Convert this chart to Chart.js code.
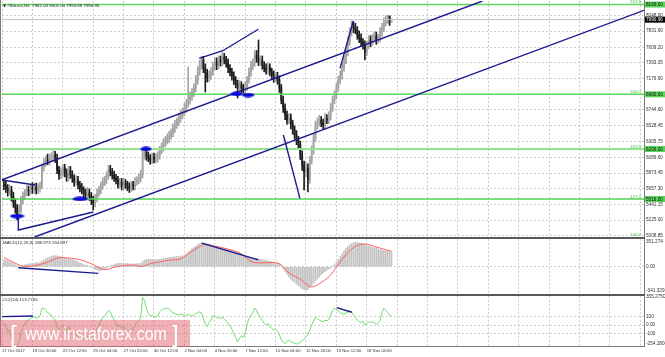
<!DOCTYPE html>
<html>
<head>
<meta charset="utf-8">
<script src="https://cdn.jsdelivr.net/npm/chart.js@4.4.1/dist/chart.umd.min.js"></script>
<style>
  html,body{margin:0;padding:0;background:#fff;}
  body{width:665px;height:357px;position:relative;overflow:hidden;font-family:"Liberation Sans",Arial,sans-serif;}
  canvas{position:absolute;left:0;}
  .ln{position:absolute;background:#7a7a7a;z-index:2;}
  .txt{position:absolute;white-space:nowrap;color:#2a2a2a;font-size:4.4px;line-height:5px;z-index:3;}
  #wm{position:absolute;left:0;top:320px;width:190px;height:27px;background:rgba(226,98,108,0.5);z-index:4;}
  #wm span{position:absolute;color:#fff;white-space:nowrap;line-height:1;}
</style>
</head>
<body>
<canvas id="cMain" width="665" height="237" style="top:0"></canvas>
<canvas id="cMacd" width="665" height="55" style="top:239px"></canvas>
<canvas id="cCci" width="665" height="61" style="top:296px"></canvas>

<div class="ln" style="left:0;top:0;width:1px;height:347px"></div>
<div class="ln" style="left:644px;top:0;width:1px;height:347px"></div>
<div class="ln" style="left:0;top:237px;width:645px;height:2px;background:#5a5a5a"></div>
<div class="ln" style="left:0;top:294px;width:645px;height:2px;background:#5a5a5a"></div>
<div class="ln" style="left:0;top:346px;width:645px;height:1px"></div>

<div class="txt" style="left:3px;top:2.5px;"><span style="font-family:'DejaVu Sans';font-size:4px">▼</span> #Bitcoin,H4&nbsp; 7962.03 8002.05 7950.88 7990.96</div>
<div class="txt" style="left:3px;top:240px;">MACD(12,26,9) 188.973 194.897</div>
<div class="txt" style="left:3px;top:297px;">CCI(14) 113.7765</div>

<div id="wm">
  <span style="left:10px;top:2px;font-size:24px;">[</span>
  <span style="left:25px;top:4px;font-size:19px;transform:scaleX(0.84);transform-origin:left top;">www.instaforex.com</span>
  <span style="left:172px;top:2px;font-size:24px;">]</span>
</div>

<script>
// ---------------- DATA ----------------
const dateLabels = ['17 Oct 2017','19 Oct 20:00','22 Oct 12:00','25 Oct 04:00','27 Oct 20:00','30 Oct 12:00','2 Nov 04:00','4 Nov 20:00','7 Nov 12:00','10 Nov 04:00','12 Nov 20:00','15 Nov 12:00','18 Nov 04:00'];

const openP = [5720,5695,5668,5612,5640,5543,5461,5392,5309,5364,
5502,5557,5599,5640,5626,5668,5654,5681,5640,5668,
5695,5957,6013,6054,6040,6082,6095,6123,6082,5916,
5847,5888,5944,5875,5819,5916,5847,5806,5750,5778,
5709,5668,5640,5599,5571,5612,5557,5502,5461,5530,
5599,5640,5695,5750,5778,5833,5916,5888,5847,5806,
5778,5723,5750,5695,5737,5709,5681,5668,5709,5695,
5750,5778,5806,5847,6123,6164,6109,6082,6054,6095,
6068,6082,6109,6192,6233,6289,6330,6358,6385,6427,
6496,6537,6578,6634,6675,6716,6772,6827,6882,6937,
6979,7048,7158,7268,7365,7434,7324,7255,7186,7227,
7268,7351,7406,7365,7434,7406,7475,7434,7393,7324,
7268,7213,7158,7103,7048,7089,7048,7006,7075,7158,
7268,7351,7393,7503,7462,7406,7434,7365,7324,7296,
7337,7268,7227,7186,7213,7158,7048,6882,6772,6675,
6606,6634,6551,6468,6399,6330,6261,6123,5985,5888,
5944,5778,6054,6192,6358,6537,6578,6606,6565,6537,
6634,6606,6661,6772,6882,6951,7048,7158,7227,7324,
7434,7544,7682,7820,7903,7876,7848,7779,7738,7682,
7641,7544,7641,7710,7682,7738,7765,7710,7738,7820,
7876,7958,7986,8041,7962.03];

const highP = [5790,5760,5715,5710,5690,5610,5515,5440,5435,5550,
5615,5650,5705,5695,5720,5740,5735,5735,5730,5750,
6005,6075,6110,6135,6135,6155,6185,6175,6135,5965,
5950,5995,5995,5930,5965,5965,5905,5850,5835,5830,
5760,5730,5685,5655,5675,5655,5605,5555,5580,5655,
5690,5750,5810,5830,5890,5980,5980,5940,5900,5855,
5830,5800,5800,5800,5785,5760,5740,5760,5760,5810,
5825,5860,5910,6205,6225,6215,6165,6130,6150,6150,
6140,6170,6240,6290,6350,6380,6415,6450,6480,6555,
6600,6630,6695,6740,6770,6835,6890,7337,6995,7045,
7105,7220,7340,7430,7482,7485,7380,7305,7285,7330,
7405,7465,7465,7490,7490,7544,7525,7485,7450,7370,
7320,7270,7205,7155,7150,7135,7100,7135,7210,7325,
7415,7450,7565,7565,7710,7490,7490,7410,7380,7400,
7380,7320,7285,7265,7265,7215,7095,6935,6830,6730,
6695,6690,6600,6525,6460,6380,6315,6180,6040,6025,
6000,6105,6250,6420,6590,6635,6670,6655,6620,6695,
6680,6720,6835,6935,7010,7110,7210,7285,7390,7490,
7605,7750,7880,7972,7965,7940,7895,7835,7795,7730,
7700,7695,7770,7770,7790,7825,7820,7790,7880,7940,
8015,8045,8055,8040,8002.05];

const lowP = [5645,5605,5555,5570,5485,5400,5320,5226,5255,5320,
5450,5505,5560,5560,5580,5595,5595,5585,5590,5610,
5660,5900,5965,5990,5985,6030,6045,6020,5865,5785,
5795,5830,5820,5760,5765,5800,5745,5690,5705,5655,
5615,5585,5535,5520,5520,5495,5440,5364,5405,5475,
5550,5585,5650,5700,5725,5790,5835,5790,5760,5725,
5665,5675,5640,5640,5660,5630,5605,5620,5640,5640,
5705,5725,5750,5805,6065,6050,6030,5995,6000,6015,
6015,6025,6065,6140,6175,6240,6275,6295,6340,6375,
6435,6490,6525,6575,6625,6665,6710,6780,6825,6880,
6930,6995,7100,7220,7305,7260,6992,7130,7130,7165,
7220,7295,7300,7315,7350,7350,7380,7335,7260,7215,
7155,7095,7050,6910,6990,6985,6955,6955,7015,7110,
7210,7300,7345,7400,7355,7355,7305,7270,7240,7240,
7215,7170,7125,7140,7100,6985,6830,6710,6610,6550,
6555,6485,6410,6340,6265,6205,6060,5910,5640,5825,
5612,5730,6000,6135,6310,6480,6520,6515,6480,6480,
6555,6555,6605,6725,6830,6895,7000,7105,7170,7280,
7385,7490,7635,7765,7810,7795,7720,7675,7630,7585,
7434,7495,7590,7620,7635,7685,7650,7665,7685,7760,
7830,7905,7935,7910,7950.88];

const closeP = [5695,5668,5612,5640,5543,5461,5392,5309,5364,5502,
5557,5599,5640,5626,5668,5654,5681,5640,5668,5695,
5957,6013,6054,6040,6082,6095,6123,6082,5916,5847,
5888,5944,5875,5819,5916,5847,5806,5750,5778,5709,
5668,5640,5599,5571,5612,5557,5502,5461,5530,5599,
5640,5695,5750,5778,5833,5916,5888,5847,5806,5778,
5723,5750,5695,5737,5709,5681,5668,5709,5695,5750,
5778,5806,5847,6123,6164,6109,6082,6054,6095,6068,
6082,6109,6192,6233,6289,6330,6358,6385,6427,6496,
6537,6578,6634,6675,6716,6772,6827,6882,6937,6979,
7048,7158,7268,7365,7434,7324,7255,7186,7227,7268,
7351,7406,7365,7434,7406,7475,7434,7393,7324,7268,
7213,7158,7103,7048,7089,7048,7006,7075,7158,7268,
7351,7393,7503,7462,7406,7434,7365,7324,7296,7337,
7268,7227,7186,7213,7158,7048,6882,6772,6675,6606,
6634,6551,6468,6399,6330,6261,6123,5985,5888,5944,
5778,6054,6192,6358,6537,6578,6606,6565,6537,6634,
6606,6661,6772,6882,6951,7048,7158,7227,7324,7434,
7544,7682,7820,7903,7876,7848,7779,7738,7682,7641,
7544,7641,7710,7682,7738,7765,7710,7738,7820,7876,
7958,7986,8041,7958,7990.96];

const macdMain = [85,80,75,68,55,40,25,12,5,8,
15,25,32,38,42,45,48,50,52,55,
70,85,100,112,122,130,138,142,140,132,
125,118,112,108,102,98,92,85,75,62,
50,40,30,22,15,8,0,-15,-30,-42,
-48,-45,-35,-25,-12,0,10,20,30,38,
42,45,45,43,42,40,38,36,35,38,
40,42,45,70,85,92,95,95,94,92,
90,90,95,100,105,110,115,118,120,122,
125,128,132,136,140,150,165,185,205,225,
245,262,280,292,300,302,298,290,282,275,
268,262,256,250,245,240,235,230,224,218,
212,205,195,185,175,165,155,145,135,125,
118,112,110,108,100,95,90,85,80,75,
70,65,60,55,48,35,10,-25,-60,-95,
-130,-155,-175,-195,-215,-235,-255,-272,-285,-290,
-282,-260,-235,-205,-175,-150,-125,-100,-80,-60,
-42,-28,-12,5,30,60,95,130,165,200,
232,258,280,295,305,310,308,302,295,288,
278,268,260,252,245,240,235,225,218,210,
205,200,196,192,188.973];

const signalBar = [0,3,8,11,16,22,30,35,40,45,50,53,58,64,69,72,77,82,87,93,98,103,106,111,119,124,131,135,140,145,150,156,162,166,172,175,180,185,190,195,201,204];
const signalVal = [117,80,25,5,15,50,117,110,90,50,-10,-35,-5,20,22,5,40,63,85,100,180,255,280,260,215,176,60,50,55,40,-73,-155,-250,-210,-100,0,151,256,286,256,215,194.897];

const cci = [20,-20,-80,-60,-150,-220,-250,-254,-200,-90,
-30,10,50,60,80,90,100,85,95,110,
200,207,180,150,140,110,90,60,-20,-60,
-30,0,-40,-80,-20,-50,-70,-120,-100,-150,
-170,-180,-160,-170,-130,-150,-160,-180,-120,-50,
0,50,90,110,140,178,160,110,60,30,
-20,0,-40,-10,-40,-70,-90,-50,-60,0,
30,60,90,334,300,200,140,110,120,100,
95,110,160,185,195,200,207,190,170,150,
140,130,125,135,125,120,118,130,115,110,
120,140,150,160,150,80,10,-20,30,60,
115,110,90,95,75,100,70,50,20,-10,
-50,-100,-150,-200,-160,-130,-150,-100,13,80,
120,150,207,180,120,100,60,20,0,20,
-20,-40,-60,-50,-70,-120,-180,-210,-220,-200,
-180,-200,-210,-220,-230,-225,-210,-190,-170,-140,
-120,-60,0,50,92,80,60,50,40,60,
50,70,120,180,207,190,170,150,140,130,
145,150,170,160,120,100,60,40,30,50,
0,20,40,30,40,30,10,20,60,150,
203,180,150,120,113.7765];

const priceTicks = [8048.90,7831.90,7609.20,7393.05,7176.90,6960.75,6744.60,6528.45,6305.75,6089.60,5873.45,5657.30,5441.15,5225.00,5008.85];
const fibNames  = ['261.8','200.0','161.8','127.2','100.0'];
const fibLevels = [8199,6960,6206,5516,4976];
const fibBoxText = ['8199.00','6960.00','6206.00','5516.00',''];
const lastPrice = 7990.96;

const macdTickLabels = ['351.274','0.00','-341.329'];
const macdTickVals   = [313, 0, -300];
const cciTickLabels  = ['355.2750','100','0.00','-100','-254.2804'];
const cciTickVals    = [339, 100, 0, -100, -221];

// hand-drawn analysis objects: [barIndex, value] pairs
const upperChannel = [[-1,5781],[251.9,8248]];
const lowerChannel = [[16.2,4991],[336.9,8120]];
const wedgeTopLeft = [[-1,5778],[16.4,5709]];
const wedgeLowLeft = [[7.6,5254],[7.6,5088],[47.1,5336]];
const wedgeTopMid  = [[102.8,7457],[115.2,7562],[133.9,7858]];
const waveDown     = [[147.1,6399],[155.8,5525]];
const waveUp       = [[176.9,7319],[183.9,7972]];
const macdLine1    = [[7.6,-10],[49.7,-81]];
const macdLine2    = [[104.1,297],[133.9,87]];
const cciLine1     = [[-1,102],[15.3,111]];
const cciLine2     = [[175.2,212],[183.1,156]];
const markerBar    = [6.9,40.1,74.8,122.4,128.5];
const markerPrice  = [5281,5516,6206,6965,6951];

// ---------------- STYLE / LAYOUT ----------------
const FONT = '"Liberation Sans", Arial, sans-serif';
const X_MIN = -1, X_MAX = 336.9;
const gridIdx = []; for (let k = 0; k < 22; k++) gridIdx.push(-1 + 16 * k);
const GRID = '#cdcdcd';
const BLUE = '#1b1b8f';
const markerDims = [[15,5],[16,5],[12,5],[13,5],[13,5]];
const fibColors = ['#5fd65f','#5fd65f','#8fe68f','#52d052','#52d052'];
const fibWidths = [1.5,1.5,2,1.5,1.5];
const AREA_LEFT = 2, AREA_RIGHT = 644;   // page x of plot area

function pts(arr){ return arr.map(p => ({x:p[0], y:p[1]})); }
function seg(arr, color, w, order){ return {type:'line', data:pts(arr), borderColor:color||BLUE, borderWidth:w||1.4, pointRadius:0, fill:false, tension:0, order:order==null?3:order}; }

function xAxis(withLabels){
  return {
    type:'linear', min:X_MIN, max:X_MAX, offset:false,
    afterBuildTicks: s => { s.ticks = gridIdx.map(v => ({value:v})); },
    afterFit: s => { s.height = withLabels ? 11 : 0; },
    grid:{ color:GRID, lineWidth:1, drawTicks:false, offset:false },
    border:{ display:false, dash:[2,2] },
    ticks:{ display:withLabels, autoSkip:false, maxRotation:0, minRotation:0, align:'start', padding:2,
            color:'#333', font:{size:4.2, family:FONT}, callback:(v,k) => dateLabels[k] || '' }
  };
}
function yAxis(min, max, vals, labelFn, gridFn){
  return {
    type:'linear', position:'right', min, max, beginAtZero:false,
    afterBuildTicks: s => { s.ticks = vals.map(v => ({value:v})); },
    afterFit: s => { s.width = 21; },
    grid:{ color: c => gridFn(c.index), lineWidth:1, drawTicks:false },
    border:{ display:false, dash:[2,2] },
    ticks:{ autoSkip:false, padding:2, color:'#333', font:{size:4.7, family:FONT}, callback:(v,k) => labelFn(v,k) }
  };
}
const common = {
  responsive:false, animation:false, events:[],
  plugins:{ legend:{display:false}, tooltip:{enabled:false} },
  layout:{ padding:0 }
};

// create chart so that its plot area lands exactly on the wanted page rectangle
function placeChart(id, top, bottom, makeCfg){
  const cv = document.getElementById(id);
  cv.width = 665; cv.height = Math.round(bottom - top) + 20;
  cv.style.left = '0px'; cv.style.top = top + 'px';
  let chart = new Chart(cv, makeCfg());
  const a = chart.chartArea;
  const padT = a.top, padB = cv.height - a.bottom, padL = a.left, padR = cv.width - a.right;
  chart.destroy();
  const newW = Math.round(padL + (AREA_RIGHT - AREA_LEFT) + padR);
  const newH = Math.round(padT + (bottom - top) + padB);
  cv.width = newW; cv.height = newH;
  cv.style.left = Math.round(AREA_LEFT - padL) + 'px';
  cv.style.top = Math.round(top - padT) + 'px';
  cv.style.width = newW + 'px'; cv.style.height = newH + 'px';
  chart = new Chart(cv, makeCfg());
  return chart;
}

// ---------------- MAIN CHART ----------------
const bars = closeP.map((_, i) => i);
const up = i => closeP[i] >= openP[i];
const BULL = '#a4a4a4', BEAR = '#1c1c1c';

function ellipseImg(w, h){
  const c = document.createElement('canvas'); c.width = w; c.height = h;
  const g = c.getContext('2d');
  g.fillStyle = '#0b0bd8';
  g.beginPath(); g.ellipse(w/2, h/2, w/2 - 0.3, h/2 - 0.3, 0, 0, Math.PI*2); g.fill();
  return c;
}
const markerImgs = markerDims.map(d => ellipseImg(d[0], d[1]));

const mainOverlay = {
  id:'mainOverlay',
  afterDraw(chart){
    const {ctx, chartArea} = chart; const y = chart.scales.y;
    ctx.save();
    ctx.font = '4.4px ' + FONT;
    ctx.textBaseline = 'middle';
    fibLevels.forEach((lv, k) => {
      const py = Math.min(y.getPixelForValue(lv), chartArea.bottom + 0.5);
      ctx.fillStyle = '#3fbf3f'; ctx.textAlign = 'right';
      ctx.fillText(fibNames[k], chartArea.right - 3, py - 2.6);
      if (fibBoxText[k]) {
        ctx.fillStyle = '#5ad65a';
        ctx.fillRect(chartArea.right + 1, py - 3, 21, 6);
        ctx.fillStyle = '#111'; ctx.textAlign = 'left';
        ctx.font = '4.7px ' + FONT;
        ctx.fillText(fibBoxText[k], chartArea.right + 2, py + 0.3);
        ctx.font = '4.4px ' + FONT;
      }
    });
    const pp = y.getPixelForValue(lastPrice);
    ctx.fillStyle = '#000';
    ctx.fillRect(chartArea.right + 1, pp - 3, 21, 6);
    ctx.fillStyle = '#fff'; ctx.textAlign = 'left'; ctx.font = '4.7px ' + FONT;
    ctx.fillText(lastPrice.toFixed(2), chartArea.right + 2, pp + 0.3);
    ctx.restore();
  }
};

function mainCfg(){
  return {
    type:'bar',
    data:{ datasets:[
      { type:'bar', data:bars.map(i => ({x:i, y:[lowP[i], highP[i]]})), grouped:false, barThickness:1,
        backgroundColor:bars.map(i => up(i) ? BULL : BEAR), borderWidth:0, order:10 },
      { type:'bar', data:bars.map(i => ({x:i, y:[Math.min(openP[i], closeP[i]), Math.max(openP[i], closeP[i])]})), grouped:false, barThickness:1.1,
        backgroundColor:bars.map(i => up(i) ? BULL : BEAR), borderWidth:0, order:9 },
      { type:'line', data:[{x:X_MIN, y:lastPrice},{x:X_MAX, y:lastPrice}], borderColor:'#c4c4c4', borderWidth:1, pointRadius:0, order:8 },
      ...fibLevels.map((lv, k) => ({ type:'line', data:[{x:X_MIN, y:lv},{x:X_MAX, y:lv}], borderColor:fibColors[k], borderWidth:fibWidths[k], pointRadius:0, order:6 })),
      seg(upperChannel), seg(lowerChannel), seg(wedgeTopLeft), seg(wedgeLowLeft), seg(wedgeTopMid), seg(waveDown), seg(waveUp),
      { type:'scatter', data:markerBar.map((b, k) => ({x:b, y:markerPrice[k]})), pointStyle:markerImgs, pointRadius:6, showLine:false, order:0 }
    ]},
    options:{ ...common,
      scales:{
        x: xAxis(false),
        y: yAxis(4991.4, 8248.2, priceTicks, v => v.toFixed(2), () => GRID)
      }
    },
    plugins:[mainOverlay]
  };
}

function macdCfg(){
  return {
    type:'bar',
    data:{ datasets:[
      { type:'bar', data:bars.map(i => ({x:i, y:macdMain[i]})), grouped:false, barThickness:1, backgroundColor:'#c3c3c3', borderWidth:0, order:10 },
      { type:'line', data:signalBar.map((b, k) => ({x:b, y:signalVal[k]})), borderColor:'#ff5f5f', borderWidth:1, pointRadius:0, cubicInterpolationMode:'monotone', order:5 },
      seg(macdLine1), seg(macdLine2)
    ]},
    options:{ ...common,
      scales:{
        x: xAxis(false),
        y: yAxis(-341.329, 351.274, macdTickVals, (v, k) => macdTickLabels[k], k => k === 1 ? GRID : 'rgba(0,0,0,0)')
      }
    }
  };
}

function cciCfg(){
  return {
    type:'bar',
    data:{ datasets:[
      { type:'line', data:bars.map(i => ({x:i, y:cci[i]})), borderColor:'#72dc72', borderWidth:1, pointRadius:0, tension:0, order:5 },
      seg(cciLine1), seg(cciLine2)
    ]},
    options:{ ...common,
      scales:{
        x: xAxis(true),
        y: yAxis(-254.2804, 355.275, cciTickVals, (v, k) => cciTickLabels[k], k => (k >= 1 && k <= 3) ? GRID : 'rgba(0,0,0,0)')
      }
    }
  };
}

placeChart('cMain', 1, 237, mainCfg);
placeChart('cMacd', 239, 294, macdCfg);
placeChart('cCci', 296, 346, cciCfg);
</script>
</body>
</html>
